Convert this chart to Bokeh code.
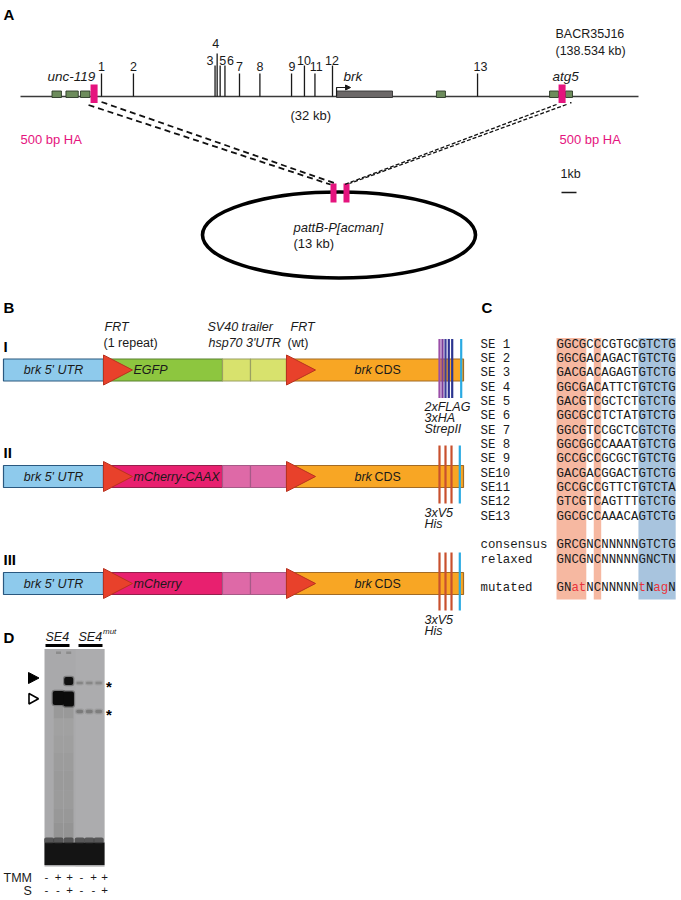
import numpy as np
from bokeh.plotting import figure
from bokeh.models import Range1d
from bokeh.core.properties import value
from bokeh.embed import file_html
from bokeh.resources import INLINE

SANS = "Liberation Sans"
MONO = "Liberation Mono"
MAGENTA = "#e5147e"

# ---------------- Panel A : BAC map (positions in kb) ----------------
bac_name = "BACR35J16"
bac_size = "(138.534 kb)"
region_size = "(32 kb)"
kb_px = 15.0            # 1 kb scale bar length
map_x0 = 20.0
map_len_kb = 41.2
se_names = ["1", "2", "3", "4", "5", "6", "7", "8", "9", "10", "11", "12", "13"]
se_kb = [5.40, 7.53, 12.97, 13.11, 13.31, 13.63, 14.60, 15.96, 18.07, 18.93, 19.63, 20.80, 30.47]
se_tier = [0, 0, 1, 2, 1, 1, 0, 0, 0, 1, 0, 1, 0]
se_label_dx = [0, 0, -5, -1.5, 2.5, 5.5, 0, 0, 0.5, -0.5, 1.2, -0.5, 3]
exon_start_kb = [2.10, 3.03, 4.00, 27.73, 35.27, 36.33]
exon_end_kb = [2.73, 3.85, 4.63, 28.33, 35.87, 36.80]
brk_gene_kb = [21.07, 24.80]
ha_start_kb = [4.67, 35.87]
ha_len_kb = 0.47
gene_names = ["unc-119", "brk", "atg5"]
gene_label_kb = [1.8, 21.53, 35.47]
plasmid_name = "pattB-P[acman]"
plasmid_size = "(13 kb)"
ha_label = "500 bp HA"

# ---------------- Panel B : constructs ----------------
construct_names = ["I", "II", "III"]
seg_bounds = [3, 103, 222, 250, 286, 463]
construct_fill = [
    ["#8ecaec", "#8dc63f", "#d8e26d", "#d8e26d", "#f8a624"],
    ["#8ecaec", "#e8206f", "#de69a7", "#de69a7", "#f8a624"],
    ["#8ecaec", "#e8206f", "#de69a7", "#de69a7", "#f8a624"],
]
construct_line = [
    ["#2a587f", "#5a8231", "#9aa062", "#9aa062", "#a26b25"],
    ["#2a587f", "#951f4c", "#a65a87", "#a65a87", "#a26b25"],
    ["#2a587f", "#951f4c", "#a65a87", "#a65a87", "#a26b25"],
]
insert_names = ["EGFP", "mCherry-CAAX", "mCherry"]
frt_x = [103, 286]
tags_x = [[439, 442, 445, 448.3, 451.7, 460.7], [439, 445, 451, 459.3], [439, 445, 451, 459.3]]
tags_col = [["#9b4fa8", "#7c3e9b", "#3c3d9a", "#2e3192", "#2b3590", "#2aaae2"],
            ["#c8502e", "#c8502e", "#c8502e", "#2aaae2"],
            ["#c8502e", "#c8502e", "#c8502e", "#2aaae2"]]
tag_labels = [["2xFLAG", "3xHA", "StrepII"], ["3xV5", "His"], ["3xV5", "His"]]

# ---------------- Panel C : alignment ----------------
row_names = ["SE 1", "SE 2", "SE 3", "SE 4", "SE 5", "SE 6", "SE 7", "SE 8", "SE 9",
             "SE10", "SE11", "SE12", "SE13", "consensus", "relaxed", "mutated"]
row_seqs = ["GGCGCCCGTGCGTCTG", "GGCGACAGACTGTCTG", "GACGACAGAGTGTCTG", "GGCGACATTCTGTCTG",
            "GACGTCGCTCTGTCTG", "GGCGCCTCTATGTCTG", "GGCGTCCGCTCGTCTG", "GGCGGCCAAATGTCTG",
            "GCCGCCGCGCTGTCTG", "GACGACGGACTGTCTG", "GCCGCCGTTCTGTCTA", "GTCGTCAGTTTGTCTG",
            "GGCGCCAAACAGTCTG", "GRCGNCNNNNNGTCTG", "GNCGNCNNNNNGNCTN", "GNatNCNNNNNtNagN"]
row_slot = [0, 1, 2, 3, 4, 5, 6, 7, 8, 9, 10, 11, 12, 14, 15, 17]
orange_blocks = [(0, 4), (5, 6)]      # column ranges [start, end)
blue_blocks = [(11, 16)]

# ---------------- Panel D : gel ----------------
lane_x = [48.6, 58.0, 68.2, 79.2, 88.8, 98.2]
tmm_signs = ["-", "+", "+", "-", "+", "+"]
s_signs = ["-", "-", "+", "-", "-", "+"]
sign_x = [46, 57.5, 69, 81, 93, 104]
# bands: lane index, centre y, height, width, colour
band_lane = [1, 2, 2, 3, 4, 5, 3, 4, 5]
band_y = [697.5, 698.5, 680.5, 682.5, 682.5, 682.5, 711, 711, 711]
band_h = [14, 15, 8, 2.4, 2.4, 2.4, 3.4, 3.4, 3.4]
band_w = [11.5, 10.5, 9, 6.5, 6.5, 6.5, 7, 7, 7]
band_col = ["#0b0b0b", "#0b0b0b", "#101010", "#858585", "#878787", "#898989", "#7a7a7a", "#7c7c7c", "#7e7e7e"]
well_lane = [1, 2]
smear_y0 = [706, 718, 735, 752, 770, 790, 808, 822]
smear_y1 = [718, 735, 752, 770, 790, 808, 822, 838]
smear_lvl = ["#959595", "#9f9f9f", "#9c9c9c", "#999999", "#969696", "#979797", "#939393", "#8e8e8e"]

# ======================================================================
W, H = 681, 900
p = figure(width=W, height=H, x_range=Range1d(0, W), y_range=Range1d(H, 0),
           output_backend="svg", toolbar_location=None, min_border=0,
           x_axis_location=None, y_axis_location=None)
p.xgrid.visible = False
p.ygrid.visible = False
p.outline_line_color = None
p.background_fill_color = "white"
p.border_fill_color = "white"


def txt(x, y, s, size=12.5, style="normal", color="#1a1a1a", align="left", font=SANS):
    xs = list(np.atleast_1d(x)); ys = list(np.atleast_1d(y))
    ss = [s] if isinstance(s, str) else list(s)
    if len(xs) == 1 and len(ss) > 1: xs = xs * len(ss)
    if len(ys) == 1 and len(ss) > 1: ys = ys * len(ss)
    p.text(x=xs, y=ys, text=ss, text_font=value(font), text_font_size=value(f"{size}px"),
           text_font_style=style, text_color=color, text_align=align, text_baseline="middle")


def X(kb):
    return map_x0 + np.asarray(kb, dtype=float) * kb_px


# panel letters
txt(3, 14, "A", 15, "bold", "#000")
txt(3, 307, "B", 15, "bold", "#000")
txt(481, 307, "C", 15, "bold", "#000")
txt(3, 637, "D", 15, "bold", "#000")

# ---- Panel A
line_y = 96.0
p.segment(x0=[X(0)], y0=[line_y], x1=[X(map_len_kb)], y1=[line_y], line_color="#3a3a3a", line_width=1.6)
tier_label_y = [65.5, 60, 43]
tier_top_y = [73, 65, 53]
sx = X(se_kb)
p.segment(x0=sx, y0=[tier_top_y[t] for t in se_tier], x1=sx, y1=[line_y] * len(sx),
          line_color="#1a1a1a", line_width=1.3)
txt(sx + np.array(se_label_dx), [tier_label_y[t] for t in se_tier], se_names, 12.5, align="center")
p.quad(left=X(exon_start_kb), right=X(exon_end_kb), top=[90.5] * 6, bottom=[97] * 6,
       fill_color="#6d8c5c", line_color="#2c3a28", line_width=0.9)
p.quad(left=[X(brk_gene_kb[0])], right=[X(brk_gene_kb[1])], top=[90.5], bottom=[97],
       fill_color="#6c6868", line_color="#333333", line_width=0.9)
bx = float(X(brk_gene_kb[0]))
p.line(x=[bx, bx, bx + 10], y=[line_y, 87, 87], line_color="#1a1a1a", line_width=1.2)
p.patch(x=[bx + 9, bx + 9, bx + 14], y=[84.5, 89.5, 87], fill_color="#1a1a1a", line_color="#1a1a1a")
hx = X(ha_start_kb)
p.quad(left=hx, right=hx + ha_len_kb * kb_px, top=[84] * 2, bottom=[102.5] * 2,
       fill_color=MAGENTA, line_color=None)
p.quad(left=[569.5], right=[571], top=[101.5], bottom=[103], fill_color="#222", line_color=None)
txt(X(gene_label_kb), [75.5, 76, 76], gene_names, 13.5, "italic")
txt(555, 33, bac_name, 12.5)
txt(555, 50, bac_size, 12.5)
txt(290, 115, region_size, 13)
txt([20, 559], [139, 139], [ha_label, ha_label], 13, color=MAGENTA)
txt(560, 173, "1kb", 12.5)
p.segment(x0=[561], y0=[192], x1=[561 + kb_px], y1=[192], line_color="#1a1a1a", line_width=1.5)

# plasmid
pl_cx, pl_cy, pl_w, pl_h = 338.5, 234.5, 273, 86
p.ellipse(x=[pl_cx], y=[pl_cy], width=[pl_w], height=[pl_h], fill_color=None,
          line_color="#000000", line_width=3.6)
pl_ha = [330, 343]
p.quad(left=pl_ha, right=[v + 6 for v in pl_ha], top=[183] * 2, bottom=[202] * 2,
       fill_color=MAGENTA, line_color=None)
txt(293, 227, plasmid_name, 13, "italic")
txt(293, 243, plasmid_size, 13)

# dashed connectors
p.segment(x0=[hx[0] - 2, hx[0] + 11], y0=[104.5, 101.5], x1=[pl_ha[0], pl_ha[0] + 5], y1=[184, 183],
          line_color="#111", line_width=1.8, line_dash="6 4")
p.segment(x0=[hx[1] - 2, hx[1] + 8], y0=[104, 104], x1=[pl_ha[1] + 1, pl_ha[1] + 6], y1=[184, 183],
          line_color="#111", line_width=1.3, line_dash="4 2")

# ---- Panel B
construct_y = [369.5, 476, 583]
bar_half = 11
for ci, cy in enumerate(construct_y):
    txt(3, cy - 24, construct_names[ci], 15, "bold", "#000")
    p.quad(left=seg_bounds[:-1], right=seg_bounds[1:], top=[cy - bar_half] * 5, bottom=[cy + bar_half] * 5,
           fill_color=construct_fill[ci], line_color=construct_line[ci], line_width=1.2)
    p.patches(xs=[[fx, fx, fx + 29] for fx in frt_x],
              ys=[[cy - 15, cy + 15, cy] for _ in frt_x],
              fill_color="#e8412b", line_color="#b8321f", line_width=1)
    txt(53, cy, "brk 5' UTR", 12.5, "italic", align="center")
    txt(133, cy, insert_names[ci], 12.5, "italic")
    txt(354, cy, "brk", 12.5, "italic")
    txt(374, cy, "CDS", 12.5)
    ty0, ty1 = (cy - 31, cy + 28) if ci == 0 else (cy - 31, cy + 27)
    p.segment(x0=tags_x[ci], y0=[ty0] * len(tags_x[ci]), x1=tags_x[ci], y1=[ty1] * len(tags_x[ci]),
              line_color=tags_col[ci], line_width=2.2)
    labs = tag_labels[ci]
    txt(424, [ty1 + 9 + 11 * k for k in range(len(labs))], labs, 12.5, "italic")

txt(104, 326, "FRT", 12.5, "italic")
txt(103, 342, "(1 repeat)", 12.5)
txt(207, 326, "SV40 trailer", 12.5, "italic")
txt(208, 342, "hsp70 3'UTR", 12.5, "italic")
txt(287, 342, "(wt)", 12.5)
txt(290, 326, "FRT", 12.5, "italic")

# ---- Panel C
c_x0, cw, r_y0, r_dy = 556.0, 7.45, 344.0, 14.35
band_top, band_bot = 337.5, 599
for blocks, col in ((orange_blocks, "#f6b8a1"), (blue_blocks, "#a8c4de")):
    p.quad(left=[c_x0 + a * cw for a, b in blocks], right=[c_x0 + b * cw for a, b in blocks],
           top=[band_top] * len(blocks), bottom=[band_bot] * len(blocks), fill_color=col, line_color=None)
ry = [r_y0 + s * r_dy for s in row_slot]
txt(480, ry, row_names, 12.4, font=MONO)
cx, cyy, cs, cc = [], [], [], []
for seq, yy in zip(row_seqs, ry):
    for i, ch in enumerate(seq):
        cx.append(c_x0 + (i + 0.5) * cw); cyy.append(yy); cs.append(ch)
        cc.append("#e8333b" if ch.islower() else "#1a1a1a")
p.text(x=cx, y=cyy, text=cs, text_color=cc, text_font=value(MONO), text_font_size=value("12.4px"),
       text_align="center", text_baseline="middle")

# ---- Panel D
txt(45, 636, "SE4", 12.5, "italic")
txt(78, 636, "SE4", 12.5, "italic")
txt(102.5, 631, "mut", 8, "italic")
p.quad(left=[45, 78], right=[69, 102], top=[643.5] * 2, bottom=[646.5] * 2, fill_color="#000", line_color=None)
gel_l, gel_r, gel_t, gel_b = 44, 104, 648.5, 866
p.quad(left=[gel_l], right=[gel_r], top=[gel_t], bottom=[gel_b], fill_color="#a9a9ab", line_color=None)
p.quad(left=[75], right=[gel_r], top=[gel_t], bottom=[gel_b], fill_color="#b0b0b1", line_color=None, fill_alpha=0.5)
lw = 9.5
sm_l = [lane_x[k] - lw / 2 for k in (1, 2) for _ in smear_y0]
p.quad(left=sm_l, right=[v + lw for v in sm_l], top=smear_y0 * 2, bottom=smear_y1 * 2,
       fill_color=smear_lvl * 2, line_color=None, fill_alpha=0.8)
p.quad(left=[lane_x[k] - 2.5 for k in well_lane], right=[lane_x[k] + 2.5 for k in well_lane],
       top=[651] * 2, bottom=[653.5] * 2, fill_color="#8c8c8c", line_color=None)
# free probe
p.quad(left=[gel_l], right=[gel_r], top=[842], bottom=[864.5], fill_color="#141414", line_color=None)
p.quad(left=[x - 5 for x in lane_x], right=[x + 5 for x in lane_x], top=[837] * 6, bottom=[843] * 6,
       fill_color="#333333", line_color=None, fill_alpha=0.7, border_radius=2)
bl = [lane_x[k] - w / 2 - 1.2 for k, w in zip(band_lane, band_w)]
p.quad(left=bl, right=[v + w + 2.4 for v, w in zip(bl, band_w)], top=[y - h / 2 - 1.2 for y, h in zip(band_y, band_h)],
       bottom=[y + h / 2 + 1.2 for y, h in zip(band_y, band_h)], fill_color=band_col, line_color=None,
       fill_alpha=0.3, border_radius=3)
bl2 = [lane_x[k] - w / 2 for k, w in zip(band_lane, band_w)]
p.quad(left=bl2, right=[v + w for v, w in zip(bl2, band_w)], top=[y - h / 2 for y, h in zip(band_y, band_h)],
       bottom=[y + h / 2 for y, h in zip(band_y, band_h)], fill_color=band_col, line_color=None, border_radius=2)
# markers
p.patches(xs=[[28, 28, 38.5], [28.5, 28.5, 38]], ys=[[672, 683, 677.5], [693, 703.5, 698.2]],
          fill_color=["#000", "#fff"], line_color="#000", line_width=[1, 1.6])
txt([108.5, 108.5], [685.5, 714], ["*", "*"], 15, "bold", "#000", align="center")
txt(3, 877, "TMM", 12.5)
txt(23, 890, "S", 12.5)
txt(sign_x, [876] * 6, tmm_signs, 11.5, align="center")
txt(sign_x, [889] * 6, s_signs, 11.5, align="center")

open("out.html", "w").write(file_html(p, INLINE))
